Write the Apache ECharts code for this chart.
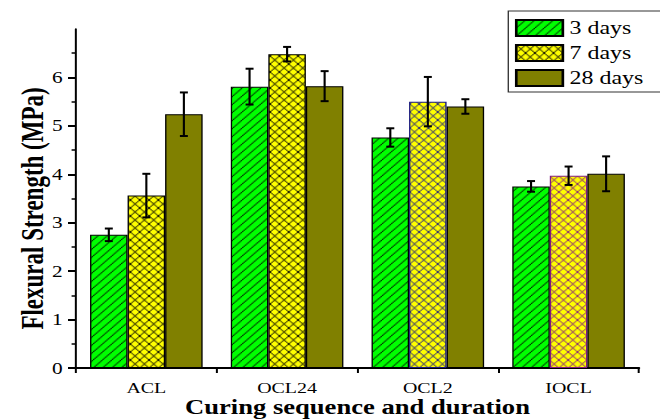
<!DOCTYPE html>
<html>
<head>
<meta charset="utf-8">
<script src="https://cdn.jsdelivr.net/npm/echarts@6/dist/echarts.min.js"></script>
<style>
html,body{margin:0;padding:0;background:#fff;overflow:hidden;}
#c{width:496px;height:420px;transform:scaleX(1.3306);transform-origin:0 0;}
</style>
</head>
<body>
<div id="c"></div>
<script>
// ---- data ----
const categories = ['ACL', 'OCL24', 'OCL2', 'IOCL'];
const seriesNames = ['3 days', '7 days', '28 days'];
const values3 = [2.75, 5.81, 4.76, 3.75];
const values7 = [3.56, 6.48, 5.50, 3.97];
const values28 = [5.24, 5.82, 5.40, 4.01];
const err3 = [0.13, 0.37, 0.19, 0.11];
const err7 = [0.45, 0.15, 0.51, 0.19];
const err28 = [0.45, 0.31, 0.15, 0.36];
const yTicks = [0, 1, 2, 3, 4, 5, 6];

// ---- styles ----
const FONT = 'Liberation Serif';
const GREEN = '#00ff00', YELLOW = '#ffff00', OLIVE = '#808000';
const crossLine = ['#000000', '#000000', '#1a1a80', '#801a80'];

function makePattern(bg, line, w, h, cross) {
  const c = document.createElement('canvas');
  c.width = w; c.height = h;
  const ctx = c.getContext('2d');
  ctx.fillStyle = bg; ctx.fillRect(0, 0, w, h);
  ctx.strokeStyle = line; ctx.lineWidth = 0.9;
  ctx.beginPath();
  for (const dx of [-w, 0, w]) {
    ctx.moveTo(dx, h); ctx.lineTo(dx + w, 0);
    if (cross) { ctx.moveTo(dx, 0); ctx.lineTo(dx + w, h); }
  }
  ctx.stroke();
  return { image: c, repeat: 'repeat', imageWidth: w, imageHeight: h };
}

const greenPat = makePattern(GREEN, '#000000', 7, 8, false);
const yellowPats = crossLine.map(col => makePattern(YELLOW, col, 7, 8, true));

const chart = echarts.init(document.getElementById('c'), null, { renderer: 'svg' });

function errSeries(vals, errs, k) {
  return {
    type: 'custom',
    name: 'err' + k,
    z: 10,
    silent: true,
    encode: { x: 0, y: 1 },
    data: vals.map((v, i) => [i, v, errs[i]]),
    renderItem: function (params, api) {
      const i = api.value(0), v = api.value(1), e = api.value(2);
      const band = api.size([1, 0])[0];
      const bw = band * 0.8 / 3;
      const cx = api.coord([i, v])[0] + (k - 1) * bw;
      const top = api.coord([i, v + e])[1];
      const bot = api.coord([i, v - e])[1];
      const hw = 3;
      return {
        type: 'group',
        children: [
          { type: 'line', shape: { x1: cx, y1: top, x2: cx, y2: bot }, style: { stroke: '#000', lineWidth: 1.6 } },
          { type: 'line', shape: { x1: cx - hw, y1: top, x2: cx + hw, y2: top }, style: { stroke: '#000', lineWidth: 2 } },
          { type: 'line', shape: { x1: cx - hw, y1: bot, x2: cx + hw, y2: bot }, style: { stroke: '#000', lineWidth: 2 } }
        ]
      };
    }
  };
}

const option = {
  animation: false,
  backgroundColor: '#fff',
  grid: { left: 57.1, right: 15.8, top: 29, bottom: 52, containLabel: false, outerBoundsMode: 'none' },
  legend: {
    orient: 'vertical',
    left: 382,
    top: 11,
    padding: [8, 25, 5, 5],
    itemWidth: 35,
    itemHeight: 16,
    itemGap: 7,
    borderColor: '#333',
    borderWidth: 1,
    backgroundColor: '#fff',
    icon: 'rect',
    data: seriesNames,
    textStyle: { fontFamily: FONT, fontSize: 18, color: '#000' }
  },
  xAxis: {
    type: 'category',
    data: categories,
    name: 'Curing sequence and duration',
    nameLocation: 'middle',
    nameGap: 29,
    nameMoveOverlap: false,
    nameTextStyle: { fontFamily: FONT, fontSize: 20, fontWeight: 'bold', color: '#000' },
    axisLine: { lineStyle: { color: '#000', width: 2 } },
    axisTick: { show: true, alignWithLabel: false, length: 5, lineStyle: { color: '#000', width: 1.5 } },
    axisLabel: { fontFamily: FONT, fontSize: 15, color: '#000', margin: 12 },
    splitLine: { show: false }
  },
  yAxis: {
    type: 'value',
    min: 0,
    max: 7,
    interval: 1,
    name: 'Flexural Strength (MPa)',
    nameLocation: 'middle',
    nameGap: 21,
    nameMoveOverlap: false,
    nameRotate: 90,
    nameTextStyle: { fontFamily: FONT, fontSize: 23, fontWeight: 'bold', color: '#000', padding: [0, 20, 0, 0] },
    axisLine: { show: true, lineStyle: { color: '#000', width: 1.5 } },
    axisTick: { show: true, customValues: yTicks, length: 6, lineStyle: { color: '#000', width: 2 } },
    minorTick: { show: true, splitNumber: 2, length: 3.3, lineStyle: { color: '#000', width: 1.5 } },
    axisLabel: { customValues: yTicks, fontFamily: FONT, fontSize: 16, color: '#000', margin: 10 },
    splitLine: { show: false },
    minorSplitLine: { show: false }
  },
  series: [
    {
      name: seriesNames[0], type: 'bar', barGap: '0%', barCategoryGap: '20%',
      itemStyle: { color: greenPat, borderColor: '#000', borderWidth: 1 },
      data: values3
    },
    {
      name: seriesNames[1], type: 'bar', barGap: '0%', barCategoryGap: '20%',
      itemStyle: { color: yellowPats[0], borderColor: '#000', borderWidth: 1 },
      data: values7.map((v, i) => ({ value: v, itemStyle: { color: yellowPats[i], borderColor: crossLine[i] } }))
    },
    {
      name: seriesNames[2], type: 'bar', barGap: '0%', barCategoryGap: '20%',
      itemStyle: { color: OLIVE, borderColor: '#000', borderWidth: 1 },
      data: values28
    },
    errSeries(values3, err3, 0),
    errSeries(values7, err7, 1),
    errSeries(values28, err28, 2)
  ]
};
chart.setOption(option);
</script>
</body>
</html>
